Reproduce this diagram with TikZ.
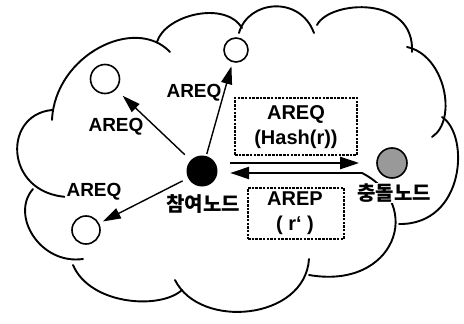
\documentclass[tikz,border=0pt]{standalone}
\usepackage{fontspec}
\setmainfont{Liberation Sans}
\newfontfamily\krfont{Noto Sans CJK KR}
\usetikzlibrary{arrows.meta}
\begin{document}
\begin{tikzpicture}[x=1pt,y=-1pt,
  cloudline/.style={line width=1.9pt, line cap=round},
  emptynode/.style={circle, draw=black, line width=1.6pt, fill=white, inner sep=0pt},
  arr/.style={line width=1.4pt, -{Triangle[length=18pt,width=11pt]}},
  harr/.style={line width=2.4pt, -{Triangle[length=19pt,width=12pt]}},
  lbl/.style={font=\fontsize{19}{23}\selectfont\bfseries, inner sep=1.5pt},
  krlbl/.style={font=\fontsize{20}{24}\selectfont\krfont\bfseries, inner sep=1pt, fill=white},
  dbox/.style={draw=black, line width=2.6pt, dash pattern=on 2.5pt off 1.2pt, inner sep=0pt},
  boxtext/.style={font=\fontsize{20}{25}\selectfont\bfseries, align=center}
]
\useasboundingbox (0,0) rectangle (464,324);

% cloud outline
\draw[cloudline] (52,120) .. controls (55,55) and (135,15) .. (170,52);
\draw[cloudline] (157,42) .. controls (165,15) and (225,0) .. (242,28);
\draw[cloudline] (239,33) .. controls (248,0) and (300,-5) .. (314,33);
\draw[cloudline] (317,25) .. controls (330,0) and (415,-5) .. (412,52);
\draw[cloudline] (407,47) .. controls (445,55) and (458,120) .. (432,137);
\draw[cloudline] (442,117) .. controls (470,135) and (465,225) .. (399,224);
\coordinate (gstart) at (362,173);
\draw[cloudline] (gstart) .. controls (425,205) and (395,290) .. (309,275);
\draw[cloudline] (309,259) .. controls (305,320) and (200,330) .. (175,280);
\draw[cloudline] (182,290) .. controls (160,310) and (90,305) .. (73,265);
\draw[cloudline] (83,259) .. controls (40,265) and (10,215) .. (33,189);
\draw[cloudline] (75,197) .. controls (5,200) and (0,115) .. (52,110);

% nodes
\node[circle, fill=black, minimum size=31pt, inner sep=0pt] (src) at (202,171) {};
\node[circle, draw=black, line width=1.6pt, fill=black!40, minimum size=30pt, inner sep=0pt] (dst) at (392,163) {};
\node[emptynode, minimum size=24pt] (ntop) at (236,50) {};
\node[emptynode, minimum size=29pt] (nul) at (105,79) {};
\node[emptynode, minimum size=28pt] (nll) at (86,230) {};

% arrows to neighbours
\draw[arr, shorten <=2pt, shorten >=4pt] (src) -- (ntop);
\draw[arr, shorten <=8pt, shorten >=9pt] (src) -- (nul);
\draw[arr, shorten <=6pt, shorten >=4pt] (src) -- (nll);

% request / reply arrows
\draw[harr, shorten <=12.5pt, shorten >=17pt] ([yshift=8pt]src.east) -- ([yshift=8pt]src.east -| dst.west);
\draw[harr, shorten >=12.5pt] (gstart) -- (gstart -| src.east);

% labels
\node[lbl] (l1) at (194,93) {AREQ};
\node[lbl] (l2) at (116,127) {AREQ};
\node[lbl, fill=white] (l3) at (94,192) {AREQ};
\node[krlbl] (srclbl) at (203,204) {참여노드};
\node[krlbl] (dstlbl) at (394,193) {충돌노드};

% message boxes
\node[dbox, minimum width=122pt, minimum height=57pt] (box1) at (296,126.5) {};
\node[boxtext] (t1) at (296,127.5) {AREQ\\(Hash(r))};
\node[dbox, minimum width=96pt, minimum height=51pt] (box2) at (296,213.5) {};
\node[boxtext] (t2) at (295,213.5) {AREP\\( r\symbol{96} )};
\end{tikzpicture}
\end{document}
